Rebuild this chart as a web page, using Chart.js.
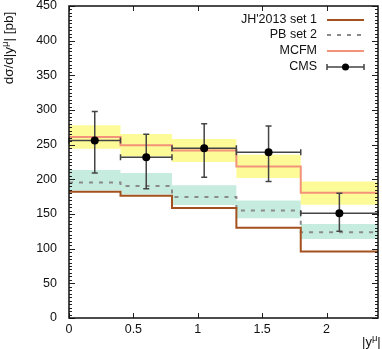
<!DOCTYPE html>
<html><head><meta charset="utf-8">
<script src="https://cdn.jsdelivr.net/npm/chart.js@4/dist/chart.umd.min.js"></script>
<style>html,body{margin:0;padding:0;background:#fff}#wrap{width:382px;height:349px;position:relative}</style>
</head><body><div id="wrap"><canvas id="c" width="382" height="349"></canvas></div>
<script>
// ---- data ----
const binEdges   = [0, 0.4, 0.8, 1.3, 1.8, 2.4];
const jh2013     = [182, 176.5, 158.5, 130, 96];
const pbSet2     = [195.5, 190.5, 174.5, 155, 123.5];
const pbLow      = [184, 178, 163, 144, 114];
const pbHigh     = [213.5, 209, 191.5, 169.5, 135.5];
const mcfm       = [261, 249, 241.5, 218.5, 180.5];
const mcfmLow    = [244, 233, 225, 202, 163.5];
const mcfmHigh   = [278, 265.5, 258, 235.5, 197];
const cmsX       = [0.2, 0.6, 1.05, 1.55, 2.1];
const cmsY       = [256, 232, 245, 239, 151];
const cmsErrUp   = [42, 33, 35, 38, 29];
const cmsErrDown = [47, 45.5, 42, 42, 26];
const xTicks     = [0, 0.5, 1, 1.5, 2];
const yTicks     = [0, 50, 100, 150, 200, 250, 300, 350, 400, 450];

const FONT = "'Liberation Sans', Arial, sans-serif";
const C_JH = '#a3521f', C_PB = '#8a8a8a', C_MC = '#f2937a';
const C_YEL = 'rgb(253,251,152)', C_GRN = 'rgb(197,236,222)';
const PB_DASH = [4,6];

function stepData(vals){
  return binEdges.map((e,i)=>({x:e, y: vals[Math.min(i, vals.length-1)]}));
}

const cmsPoints = cmsX.map((x,i)=>({x, y: cmsY[i]}));

const plugin = {
  id:'custom',
  beforeDatasetDraw(chart, args){
    if (args.index !== 0) return;
    const {ctx} = chart, xs = chart.scales.x, ys = chart.scales.y;
    ctx.save();
    ctx.strokeStyle = '#444'; ctx.lineWidth = 1.5;
    for (let i=0;i<cmsX.length;i++){
      const px = xs.getPixelForValue(cmsX[i]), py = ys.getPixelForValue(cmsY[i]);
      const x0 = xs.getPixelForValue(binEdges[i]), x1 = xs.getPixelForValue(binEdges[i+1]);
      const yT = ys.getPixelForValue(cmsY[i]+cmsErrUp[i]), yB = ys.getPixelForValue(cmsY[i]-cmsErrDown[i]);
      ctx.beginPath();
      ctx.moveTo(x0,py); ctx.lineTo(x1,py);
      ctx.moveTo(x0,py-3); ctx.lineTo(x0,py+3);
      ctx.moveTo(x1,py-3); ctx.lineTo(x1,py+3);
      ctx.moveTo(px,yT); ctx.lineTo(px,yB);
      ctx.moveTo(px-3,yT); ctx.lineTo(px+3,yT);
      ctx.moveTo(px-3,yB); ctx.lineTo(px+3,yB);
      ctx.stroke();
    }
    ctx.restore();
  },
  afterDraw(chart){
    const {ctx, chartArea:a} = chart, xs = chart.scales.x, ys = chart.scales.y;
    ctx.save();
    // inward ticks
    ctx.strokeStyle = '#222'; ctx.lineWidth = 1;
    ctx.beginPath();
    for (const t of xTicks){
      const px = Math.round(xs.getPixelForValue(t))+0.5;
      ctx.moveTo(px,a.bottom); ctx.lineTo(px,a.bottom-5);
      ctx.moveTo(px,a.top); ctx.lineTo(px,a.top+5);
    }
    for (let v=0; v<=450; v+=5){
      const py = Math.round(ys.getPixelForValue(v))+0.5;
      const len = (v%50===0)?6:3;
      ctx.moveTo(a.left,py); ctx.lineTo(a.left+len,py);
      ctx.moveTo(a.right,py); ctx.lineTo(a.right-len,py);
    }
    ctx.stroke();
    // frame
    ctx.lineWidth = 1.5; ctx.strokeStyle = '#111';
    ctx.strokeRect(a.left, a.top, a.right-a.left, a.bottom-a.top);
    // legend
    const rows = [
      {label:"JH'2013 set 1", y:20, kind:'line', color:C_JH, dash:[]},
      {label:'PB set 2', y:35, kind:'line', color:C_PB, dash:PB_DASH},
      {label:'MCFM', y:51, kind:'line', color:C_MC, dash:[]},
      {label:'CMS', y:67, kind:'cms'}
    ];
    ctx.font = '12.5px ' + FONT; ctx.fillStyle = '#111';
    ctx.textAlign = 'right'; ctx.textBaseline = 'middle';
    const lx0 = 327, lx1 = 364;
    for (const r of rows){
      ctx.fillText(r.label, 317, r.y);
      if (r.kind==='line'){
        ctx.strokeStyle = r.color; ctx.lineWidth = 2; ctx.setLineDash(r.dash);
        ctx.beginPath(); ctx.moveTo(lx0,r.y); ctx.lineTo(lx1,r.y); ctx.stroke();
        ctx.setLineDash([]);
      } else {
        ctx.strokeStyle = '#444'; ctx.lineWidth = 1.5;
        ctx.beginPath(); ctx.moveTo(lx0,r.y); ctx.lineTo(lx1,r.y);
        ctx.moveTo(lx0,r.y-3); ctx.lineTo(lx0,r.y+3);
        ctx.moveTo(lx1,r.y-3); ctx.lineTo(lx1,r.y+3); ctx.stroke();
        ctx.fillStyle = '#000'; ctx.beginPath(); ctx.arc((lx0+lx1)/2, r.y, 3.5, 0, Math.PI*2); ctx.fill();
        ctx.fillStyle = '#111';
      }
    }
    // axis titles
    ctx.fillStyle = '#111';
    ctx.textAlign = 'left'; ctx.textBaseline = 'alphabetic';
    ctx.font = '13px ' + FONT;
    let x = 362, y = 346;
    ctx.fillText('|y', x, y); x += ctx.measureText('|y').width;
    ctx.font = '9.5px ' + FONT; ctx.fillText('μ', x, y-5); x += ctx.measureText('μ').width;
    ctx.font = '13px ' + FONT; ctx.fillText('|', x, y);
    ctx.save();
    ctx.translate(13, 48); ctx.rotate(-Math.PI/2);
    const p1 = 'dσ/d|y', p2 = 'μ', p3 = '| [pb]';
    ctx.font = '13.5px ' + FONT; const w1 = ctx.measureText(p1).width, w3 = ctx.measureText(p3).width;
    ctx.font = '9.5px ' + FONT; const w2 = ctx.measureText(p2).width;
    let sx = -(w1+w2+w3)/2;
    ctx.font = '13.5px ' + FONT; ctx.fillText(p1, sx, 0); sx += w1;
    ctx.font = '9.5px ' + FONT; ctx.fillText(p2, sx, -5); sx += w2;
    ctx.font = '13.5px ' + FONT; ctx.fillText(p3, sx, 0);
    ctx.restore();
    ctx.restore();
  }
};

new Chart(document.getElementById('c'), {
  type:'line',
  data:{ datasets:[
    {label:'CMS', type:'scatter', data:cmsPoints, pointRadius:4, pointBackgroundColor:'#000', pointBorderColor:'#000', pointBorderWidth:0, showLine:false},
    {label:"JH'2013 set 1", data:stepData(jh2013), stepped:true, borderColor:C_JH, borderWidth:2, pointRadius:0, fill:false},
    {label:'PB set 2', data:stepData(pbSet2), stepped:true, borderColor:C_PB, borderWidth:2, borderDash:PB_DASH, pointRadius:0, fill:false},
    {label:'MCFM', data:stepData(mcfm), stepped:true, borderColor:C_MC, borderWidth:2, pointRadius:0, fill:false},
    {label:'mcfmHigh', data:stepData(mcfmHigh), stepped:true, borderWidth:0, borderColor:'rgba(0,0,0,0)', pointRadius:0, backgroundColor:C_YEL, fill:'+1'},
    {label:'mcfmLow', data:stepData(mcfmLow), stepped:true, borderWidth:0, borderColor:'rgba(0,0,0,0)', pointRadius:0, fill:false},
    {label:'pbHigh', data:stepData(pbHigh), stepped:true, borderWidth:0, borderColor:'rgba(0,0,0,0)', pointRadius:0, backgroundColor:C_GRN, fill:'+1'},
    {label:'pbLow', data:stepData(pbLow), stepped:true, borderWidth:0, borderColor:'rgba(0,0,0,0)', pointRadius:0, fill:false}
  ]},
  options:{
    responsive:false, devicePixelRatio:1, animation:false,
    layout:{padding:{left:0,right:2,top:6,bottom:0}},
    plugins:{legend:{display:false}, tooltip:{enabled:false}},
    scales:{
      x:{type:'linear', min:0, max:2.4, grid:{display:false, drawTicks:false}, border:{display:false},
         afterBuildTicks(s){ s.ticks = xTicks.map(v=>({value:v})); },
         ticks:{font:{family:FONT,size:12.5}, color:'#111', padding:4, maxRotation:0, callback:v=>String(v)},
         afterFit(s){ s.height = 31; s.paddingLeft = 0; s.paddingRight = 0; }},
      y:{type:'linear', min:0, max:450, grid:{display:false, drawTicks:false}, border:{display:false},
         afterBuildTicks(s){ s.ticks = yTicks.map(v=>({value:v})); },
         ticks:{font:{family:FONT,size:12.5}, color:'#111', padding:12, callback:v=>String(v)},
         afterFit(s){ s.width = 69; s.paddingTop = 0; s.paddingBottom = 0; }}
    }
  },
  plugins:[plugin]
});
</script></body></html>
